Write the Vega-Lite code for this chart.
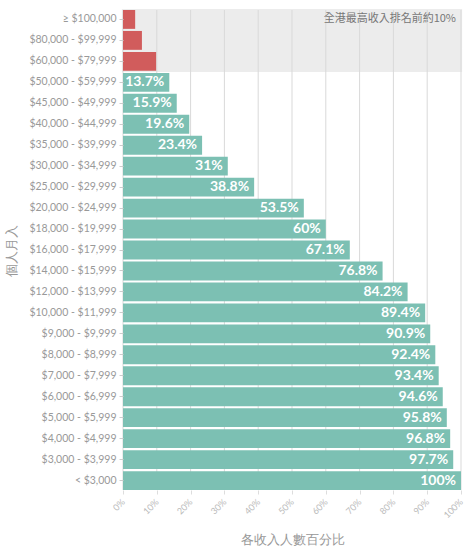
{
  "$schema": "https://vega.github.io/schema/vega-lite/v6.json",
  "width": 338,
  "height": 480,
  "padding": {"left": 5, "top": 8, "right": 5, "bottom": 5},
  "background": "white",
  "config": {
    "font": "Lato",
    "view": {"stroke": null},
    "axis": {"domain": false},
    "axisX": {"labelOverlap": false, "labelBound": false}
  },
  "datasets": {
    "income": [
      {"range": "≥ $100,000", "pct": 3.6, "top": "yes"},
      {"range": "$80,000 - $99,999", "pct": 5.6, "top": "yes"},
      {"range": "$60,000 - $79,999", "pct": 9.8, "top": "yes"},
      {"range": "$50,000 - $59,999", "pct": 13.7, "top": "no"},
      {"range": "$45,000 - $49,999", "pct": 15.9, "top": "no"},
      {"range": "$40,000 - $44,999", "pct": 19.6, "top": "no"},
      {"range": "$35,000 - $39,999", "pct": 23.4, "top": "no"},
      {"range": "$30,000 - $34,999", "pct": 31, "top": "no"},
      {"range": "$25,000 - $29,999", "pct": 38.8, "top": "no"},
      {"range": "$20,000 - $24,999", "pct": 53.5, "top": "no"},
      {"range": "$18,000 - $19,999", "pct": 60, "top": "no"},
      {"range": "$16,000 - $17,999", "pct": 67.1, "top": "no"},
      {"range": "$14,000 - $15,999", "pct": 76.8, "top": "no"},
      {"range": "$12,000 - $13,999", "pct": 84.2, "top": "no"},
      {"range": "$10,000 - $11,999", "pct": 89.4, "top": "no"},
      {"range": "$9,000 - $9,999", "pct": 90.9, "top": "no"},
      {"range": "$8,000 - $8,999", "pct": 92.4, "top": "no"},
      {"range": "$7,000 - $7,999", "pct": 93.4, "top": "no"},
      {"range": "$6,000 - $6,999", "pct": 94.6, "top": "no"},
      {"range": "$5,000 - $5,999", "pct": 95.8, "top": "no"},
      {"range": "$4,000 - $4,999", "pct": 96.8, "top": "no"},
      {"range": "$3,000 - $3,999", "pct": 97.7, "top": "no"},
      {"range": "< $3,000", "pct": 100, "top": "no"}
    ],
    "grid": [
      {"g": 0}, {"g": 10}, {"g": 20}, {"g": 30}, {"g": 40}, {"g": 50},
      {"g": 60}, {"g": 70}, {"g": 80}, {"g": 90}, {"g": 100}
    ],
    "note": [
      {"range": "≥ $100,000", "pos": 100, "text": "全港最高收入排名前約10%"}
    ]
  },
  "data": {"name": "income"},
  "encoding": {
    "y": {
      "field": "range",
      "type": "nominal",
      "sort": null,
      "scale": {"paddingInner": 0.1, "paddingOuter": 0},
      "axis": {
        "title": "個人月入",
        "titleColor": "#999999",
        "titleFontSize": 13,
        "titleFontWeight": "normal",
        "titlePadding": 10,
        "labelColor": "#999999",
        "labelFontSize": 10.5,
        "tickColor": "#cccccc",
        "tickSize": 4,
        "labelPadding": 3,
        "grid": false
      }
    },
    "x": {
      "field": "pct",
      "type": "quantitative",
      "scale": {"domain": [0, 100]},
      "axis": {
        "title": "各收入人數百分比",
        "titleColor": "#999999",
        "titleFontSize": 13,
        "titleFontWeight": "normal",
        "titlePadding": 14,
        "values": [0, 10, 20, 30, 40, 50, 60, 70, 80, 90, 100],
        "labelExpr": "datum.value + '%'",
        "labelAngle": -45,
        "labelAlign": "right",
        "labelBaseline": "middle",
        "labelColor": "#bbbbbb",
        "labelFontSize": 9,
        "labelPadding": 6,
        "labelOverlap": false,
        "tickColor": "#dddddd",
        "tickSize": 4,
        "grid": false
      }
    }
  },
  "layer": [
    {
      "transform": [{"filter": "datum.top == 'yes'"}, {"calculate": "100", "as": "full"}],
      "mark": {"type": "rect", "color": "#ececec", "stroke": "#ececec", "strokeWidth": 2.2},
      "encoding": {
        "x": {"datum": 0, "type": "quantitative"},
        "x2": {"datum": 100}
      }
    },
    {
      "data": {"name": "grid"},
      "mark": {"type": "rule", "color": "#d9d9d9", "strokeWidth": 1},
      "encoding": {
        "x": {"field": "g", "type": "quantitative"},
        "y": null
      }
    },
    {
      "mark": {"type": "bar"},
      "encoding": {
        "color": {
          "field": "top",
          "type": "nominal",
          "scale": {"domain": ["yes", "no"], "range": ["#d15c5c", "#7cc0b3"]},
          "legend": null
        }
      }
    },
    {
      "transform": [
        {"filter": "datum.top == 'no'"},
        {"calculate": "datum.pct + '%'", "as": "label"}
      ],
      "mark": {"type": "text", "align": "right", "dx": -5, "color": "white", "fontWeight": "bold", "fontSize": 14, "baseline": "middle"},
      "encoding": {
        "text": {"field": "label"}
      }
    },
    {
      "data": {"name": "note"},
      "mark": {"type": "text", "align": "right", "dx": -5, "color": "#777777", "fontSize": 11, "baseline": "middle", "font": "Noto Sans CJK TC"},
      "encoding": {
        "x": {"field": "pos", "type": "quantitative"},
        "text": {"field": "text"}
      }
    }
  ]
}
